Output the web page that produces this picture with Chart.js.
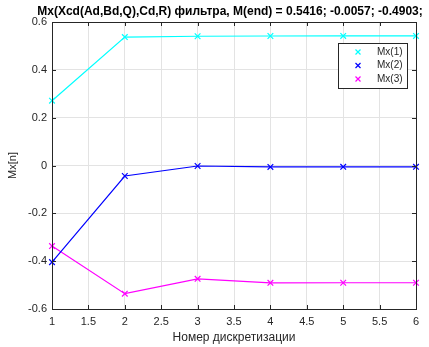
<!DOCTYPE html>
<html>
<head>
<meta charset="utf-8">
<script src="https://cdn.jsdelivr.net/npm/chart.js@4/dist/chart.umd.min.js"></script>
<style>
  html, body { margin: 0; padding: 0; background: #fff; }
  #wrap { width: 429px; height: 347px; }
</style>
</head>
<body>
<div id="wrap"><canvas id="grafica"></canvas></div>
<script>
// номера дискретизации
const nomera = [1, 2, 3, 4, 5, 6];
// компоненты Mx
const mx1 = [0.271, 0.537, 0.5405, 0.5414, 0.5416, 0.5416];
const mx2 = [-0.404, -0.044, -0.002, -0.0058, -0.0057, -0.0057];
const mx3 = [-0.337, -0.536, -0.474, -0.4905, -0.4903, -0.4903];
const nazvaniya = ['Mx(1)', 'Mx(2)', 'Mx(3)'];
const cveta = ['#00ffff', '#0000ff', '#ff00ff'];
const tickiX = [1, 1.5, 2, 2.5, 3, 3.5, 4, 4.5, 5, 5.5, 6];
const tickiY = [-0.6, -0.4, -0.2, 0, 0.2, 0.4, 0.6];
const zagolovok = 'Mx(Xcd(Ad,Bd,Q),Cd,R) фильтра, M(end) = 0.5416; -0.0057; -0.4903;';

const shrift = '"Liberation Sans", Arial, sans-serif';
const osi = '#262626';

function toPoints(vals) {
    return nomera.map((x, i) => ({ x: x, y: vals[i] }));
}

const serii = [mx1, mx2, mx3].map((vals, i) => ({
    label: nazvaniya[i],
    data: toPoints(vals),
    borderColor: cveta[i],
    backgroundColor: cveta[i],
    borderWidth: 1.2,
    pointStyle: 'crossRot',
    pointRadius: 4,
    pointBorderWidth: 1.2,
    pointHoverRadius: 4,
    tension: 0,
    clip: false
}));

// рамка осей с внутренними рисками, как в MATLAB
const ramka = {
    id: 'ramka',
    afterDatasetsDraw(chart) {
        const { ctx, chartArea: a, scales } = chart;
        ctx.save();
        ctx.strokeStyle = osi;
        ctx.lineWidth = 1;
        ctx.beginPath();
        tickiX.forEach(v => {
            const px = Math.round(scales.x.getPixelForValue(v)) + 0.5;
            ctx.moveTo(px, a.bottom); ctx.lineTo(px, a.bottom - 4);
            ctx.moveTo(px, a.top); ctx.lineTo(px, a.top + 4);
        });
        tickiY.forEach(v => {
            const py = Math.round(scales.y.getPixelForValue(v)) + 0.5;
            ctx.moveTo(a.left, py); ctx.lineTo(a.left + 4, py);
            ctx.moveTo(a.right, py); ctx.lineTo(a.right - 4, py);
        });
        ctx.stroke();
        ctx.strokeRect(Math.round(a.left) + 0.5, Math.round(a.top) + 0.5,
            Math.round(a.right - a.left), Math.round(a.bottom - a.top));
        ctx.restore();
    },
    afterDraw(chart) {
        const { ctx } = chart;
        ctx.save();
        // заголовок
        ctx.fillStyle = '#000';
        ctx.font = 'bold 12px ' + shrift;
        ctx.textAlign = 'center';
        ctx.textBaseline = 'middle';
        ctx.fillText(zagolovok, 230, 12);
        // легенда
        const bx = 338, by = 43, bw = 69, bh = 45;
        ctx.fillStyle = '#fff';
        ctx.fillRect(bx, by, bw, bh);
        ctx.strokeStyle = osi;
        ctx.lineWidth = 1;
        ctx.strokeRect(bx + 0.5, by + 0.5, bw, bh);
        ctx.font = '10px ' + shrift;
        ctx.textAlign = 'left';
        chart.data.datasets.forEach((ds, i) => {
            const y = by + 9 + i * 13.5;
            const x = 358;
            ctx.strokeStyle = ds.borderColor;
            ctx.lineWidth = 1.2;
            ctx.beginPath();
            ctx.moveTo(x - 2.5, y - 2.5); ctx.lineTo(x + 2.5, y + 2.5);
            ctx.moveTo(x - 2.5, y + 2.5); ctx.lineTo(x + 2.5, y - 2.5);
            ctx.stroke();
            ctx.fillStyle = osi;
            ctx.fillText(ds.label, 377, y);
        });
        ctx.restore();
    }
};

function formatTick(v) {
    return String(Number(Number(v).toFixed(2)));
}

new Chart(document.getElementById('grafica'), {
    type: 'line',
    data: { datasets: serii },
    options: {
        responsive: true,
        maintainAspectRatio: false,
        animation: false,
        events: [],
        layout: { padding: { top: 22, right: 13, bottom: 0, left: 0 } },
        plugins: {
            legend: { display: false },
            title: { display: false },
            tooltip: { enabled: false }
        },
        scales: {
            x: {
                type: 'linear',
                min: 1,
                max: 6,
                afterFit(scale) { scale.height = 38; },
                afterBuildTicks(scale) { scale.ticks = tickiX.map(v => ({ value: v })); },
                ticks: {
                    color: osi,
                    font: { family: shrift, size: 11 },
                    padding: 6,
                    maxRotation: 0,
                    autoSkip: false,
                    callback: formatTick
                },
                grid: { color: '#e3e3e3', drawTicks: false },
                border: { display: false },
                title: {
                    display: true,
                    text: 'Номер дискретизации',
                    color: osi,
                    font: { family: shrift, size: 12 },
                    padding: { top: 0, bottom: 2 }
                }
            },
            y: {
                min: -0.6,
                max: 0.6,
                afterFit(scale) { scale.width = 52; },
                afterBuildTicks(scale) { scale.ticks = tickiY.map(v => ({ value: v })); },
                ticks: {
                    color: osi,
                    font: { family: shrift, size: 11 },
                    padding: 5,
                    autoSkip: false,
                    callback: formatTick
                },
                grid: { color: '#e3e3e3', drawTicks: false },
                border: { display: false },
                title: {
                    display: true,
                    text: 'Mx[n]',
                    color: osi,
                    font: { family: shrift, size: 11 },
                    padding: { top: 6, bottom: 0 }
                }
            }
        }
    },
    plugins: [ramka]
});
</script>
</body>
</html>
